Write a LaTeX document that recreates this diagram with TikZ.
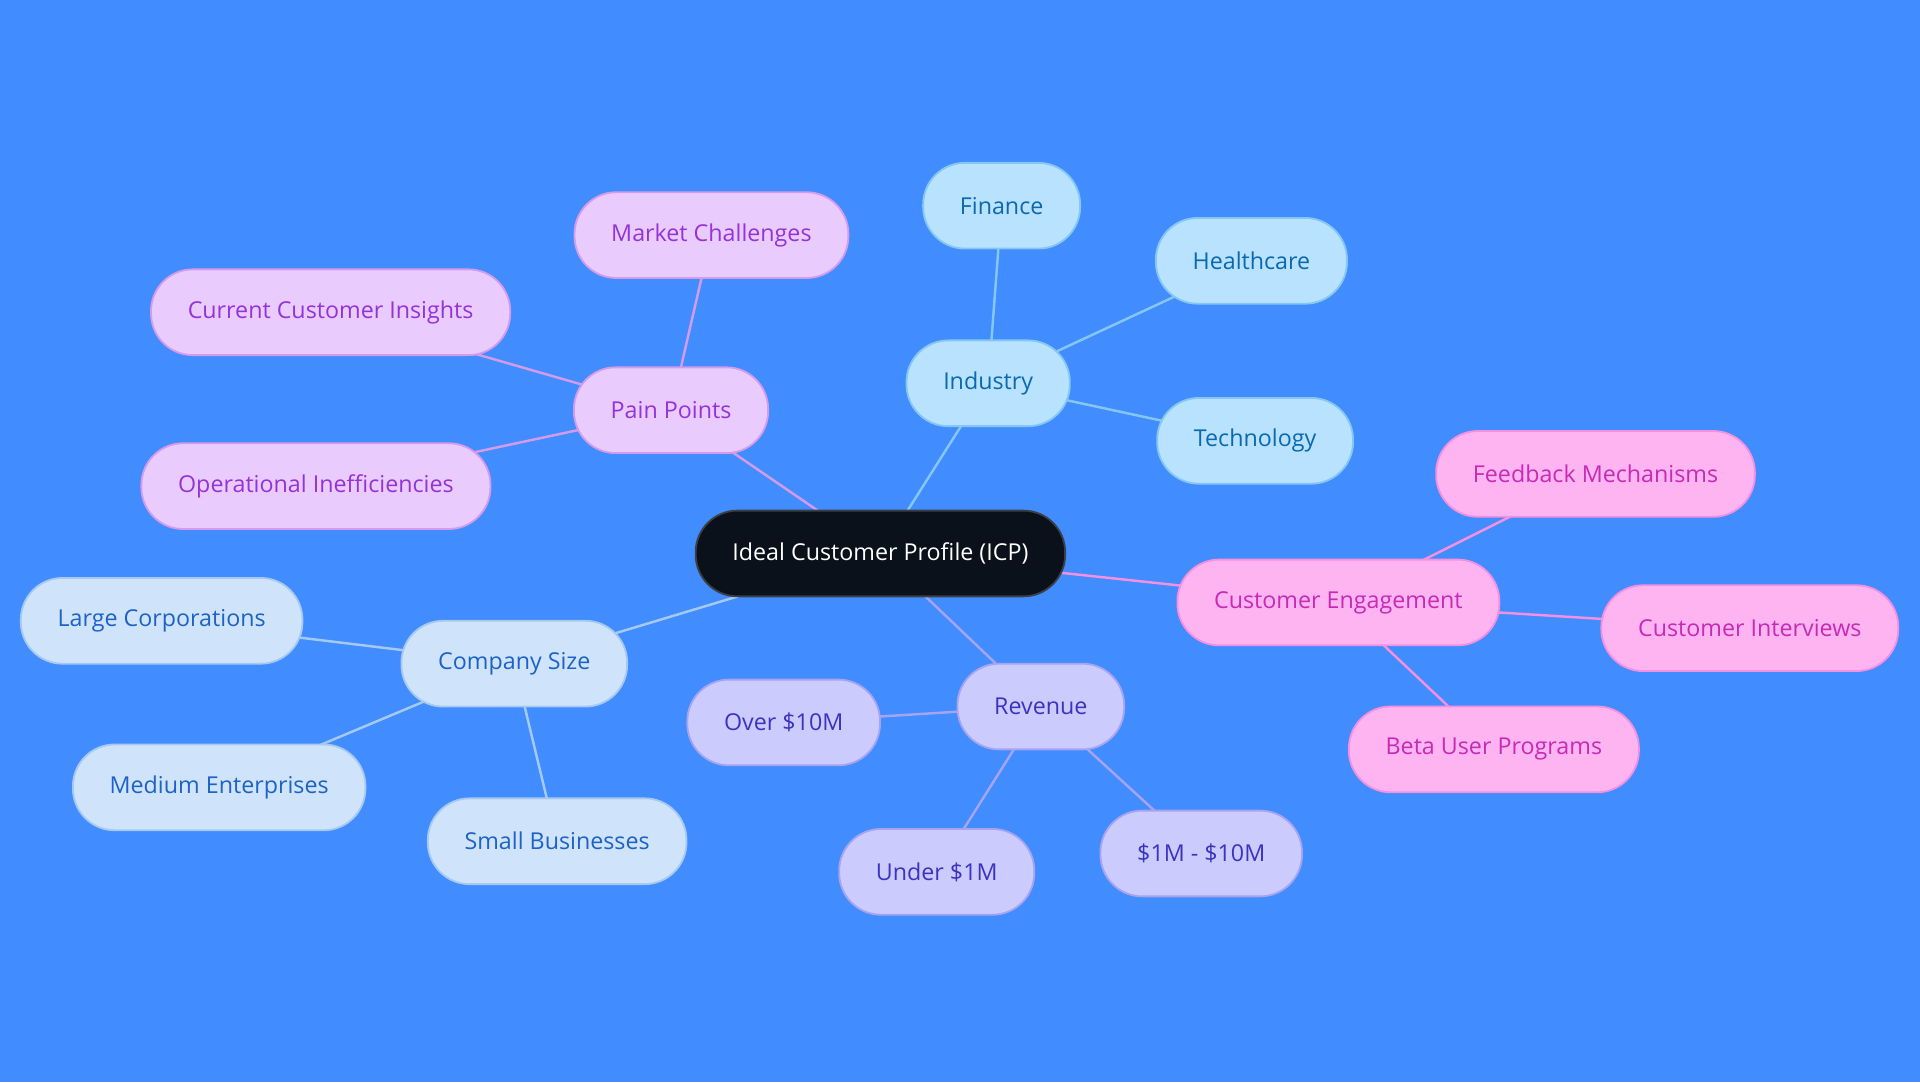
\documentclass[tikz,border=0pt]{standalone}
\usepackage{fontspec}
\setmainfont{Open Sans}
\usepackage{xcolor}
\usepackage{tikz}
\usetikzlibrary{backgrounds}

\definecolor{bgblue}{HTML}{418CFF}
\definecolor{rootfill}{HTML}{0B111B}
\definecolor{rootdraw}{HTML}{3C3F46}
\definecolor{painfill}{HTML}{EACBFD}
\definecolor{paindraw}{HTML}{D49BEA}
\definecolor{paintext}{HTML}{9333DA}
\definecolor{indfill}{HTML}{B8E2FE}
\definecolor{inddraw}{HTML}{86C6F3}
\definecolor{indtext}{HTML}{0A69B0}
\definecolor{engfill}{HTML}{FDB4F1}
\definecolor{engdraw}{HTML}{F590E0}
\definecolor{engtext}{HTML}{C72AB5}
\definecolor{revfill}{HTML}{CBCBFE}
\definecolor{revdraw}{HTML}{A6A4F0}
\definecolor{revtext}{HTML}{3A34C0}
\definecolor{sizefill}{HTML}{CFE4FB}
\definecolor{sizedraw}{HTML}{A6C9F0}
\definecolor{sizetext}{HTML}{1D62C6}

\tikzset{
    mapnode/.style={shape=rectangle, rounded corners=34pt, minimum height=70pt, inner xsep=30pt, line width=1.5pt, font=\fontsize{19}{23}\selectfont},
    rootnode/.style={mapnode, fill=rootfill, draw=rootdraw, text=white},
    painnode/.style={mapnode, fill=painfill, draw=paindraw, text=paintext},
    indnode/.style={mapnode, fill=indfill, draw=inddraw, text=indtext},
    engnode/.style={mapnode, fill=engfill, draw=engdraw, text=engtext},
    revnode/.style={mapnode, fill=revfill, draw=revdraw, text=revtext},
    sizenode/.style={mapnode, fill=sizefill, draw=sizedraw, text=sizetext},
}

\begin{document}
\begin{tikzpicture}[x=1pt, y=-1pt]
            \useasboundingbox (0, 0) rectangle (1568, 884);

            \node[rootnode] (icp) at (719, 452) {Ideal Customer Profile (ICP)};

            \node[painnode] (pain) at (548, 335) {Pain Points};
            \node[painnode] (market) at (581, 192) {Market Challenges};
            \node[painnode] (insights) at (270, 255) {Current Customer Insights};
            \node[painnode] (ineff) at (258, 397) {Operational Inefficiencies};

            \node[indnode] (industry) at (807, 313) {Industry};
            \node[indnode] (finance) at (818, 168) {Finance};
            \node[indnode] (health) at (1022, 213) {Healthcare};
            \node[indnode] (tech) at (1025, 360) {Technology};

            \node[engnode] (engage) at (1093, 492) {Customer Engagement};
            \node[engnode] (feedback) at (1303, 387) {Feedback Mechanisms};
            \node[engnode] (interviews) at (1429, 513) {Customer Interviews};
            \node[engnode] (beta) at (1220, 612) {Beta User Programs};

            \node[revnode] (revenue) at (850, 577) {Revenue};
            \node[revnode] (over) at (640, 590) {Over \$10M};
            \node[revnode] (under) at (765, 712) {Under \$1M};
            \node[revnode] (mid) at (981, 697) {\$1M - \$10M};

            \node[sizenode] (size) at (420, 542) {Company Size};
            \node[sizenode] (large) at (132, 507) {Large Corporations};
            \node[sizenode] (medium) at (179, 643) {Medium Enterprises};
            \node[sizenode] (small) at (455, 687) {Small Businesses};

            \begin{pgfonlayer}{background}
            \fill[bgblue] (0, 0) rectangle (1568, 884);

            \path[line width=2pt, draw=paindraw] (icp.center) edge (pain.center);
            \path[line width=2pt, draw=paindraw] (pain.center) edge (market.center);
            \path[line width=2pt, draw=paindraw] (pain.center) edge (insights.center);
            \path[line width=2pt, draw=paindraw] (pain.center) edge (ineff.center);

            \path[line width=2pt, draw=inddraw] (icp.center) edge (industry.center);
            \path[line width=2pt, draw=inddraw] (industry.center) edge (finance.center);
            \path[line width=2pt, draw=inddraw] (industry.center) edge (health.center);
            \path[line width=2pt, draw=inddraw] (industry.center) edge (tech.center);

            \path[line width=2pt, draw=engdraw] (icp.center) edge (engage.center);
            \path[line width=2pt, draw=engdraw] (engage.center) edge (feedback.center);
            \path[line width=2pt, draw=engdraw] (engage.center) edge (interviews.center);
            \path[line width=2pt, draw=engdraw] (engage.center) edge (beta.center);

            \path[line width=2pt, draw=revdraw] (icp.center) edge (revenue.center);
            \path[line width=2pt, draw=revdraw] (revenue.center) edge (over.center);
            \path[line width=2pt, draw=revdraw] (revenue.center) edge (under.center);
            \path[line width=2pt, draw=revdraw] (revenue.center) edge (mid.center);

            \path[line width=2pt, draw=sizedraw] (icp.center) edge (size.center);
            \path[line width=2pt, draw=sizedraw] (size.center) edge (large.center);
            \path[line width=2pt, draw=sizedraw] (size.center) edge (medium.center);
            \path[line width=2pt, draw=sizedraw] (size.center) edge (small.center);
            \end{pgfonlayer}

        \end{tikzpicture}
\end{document}
